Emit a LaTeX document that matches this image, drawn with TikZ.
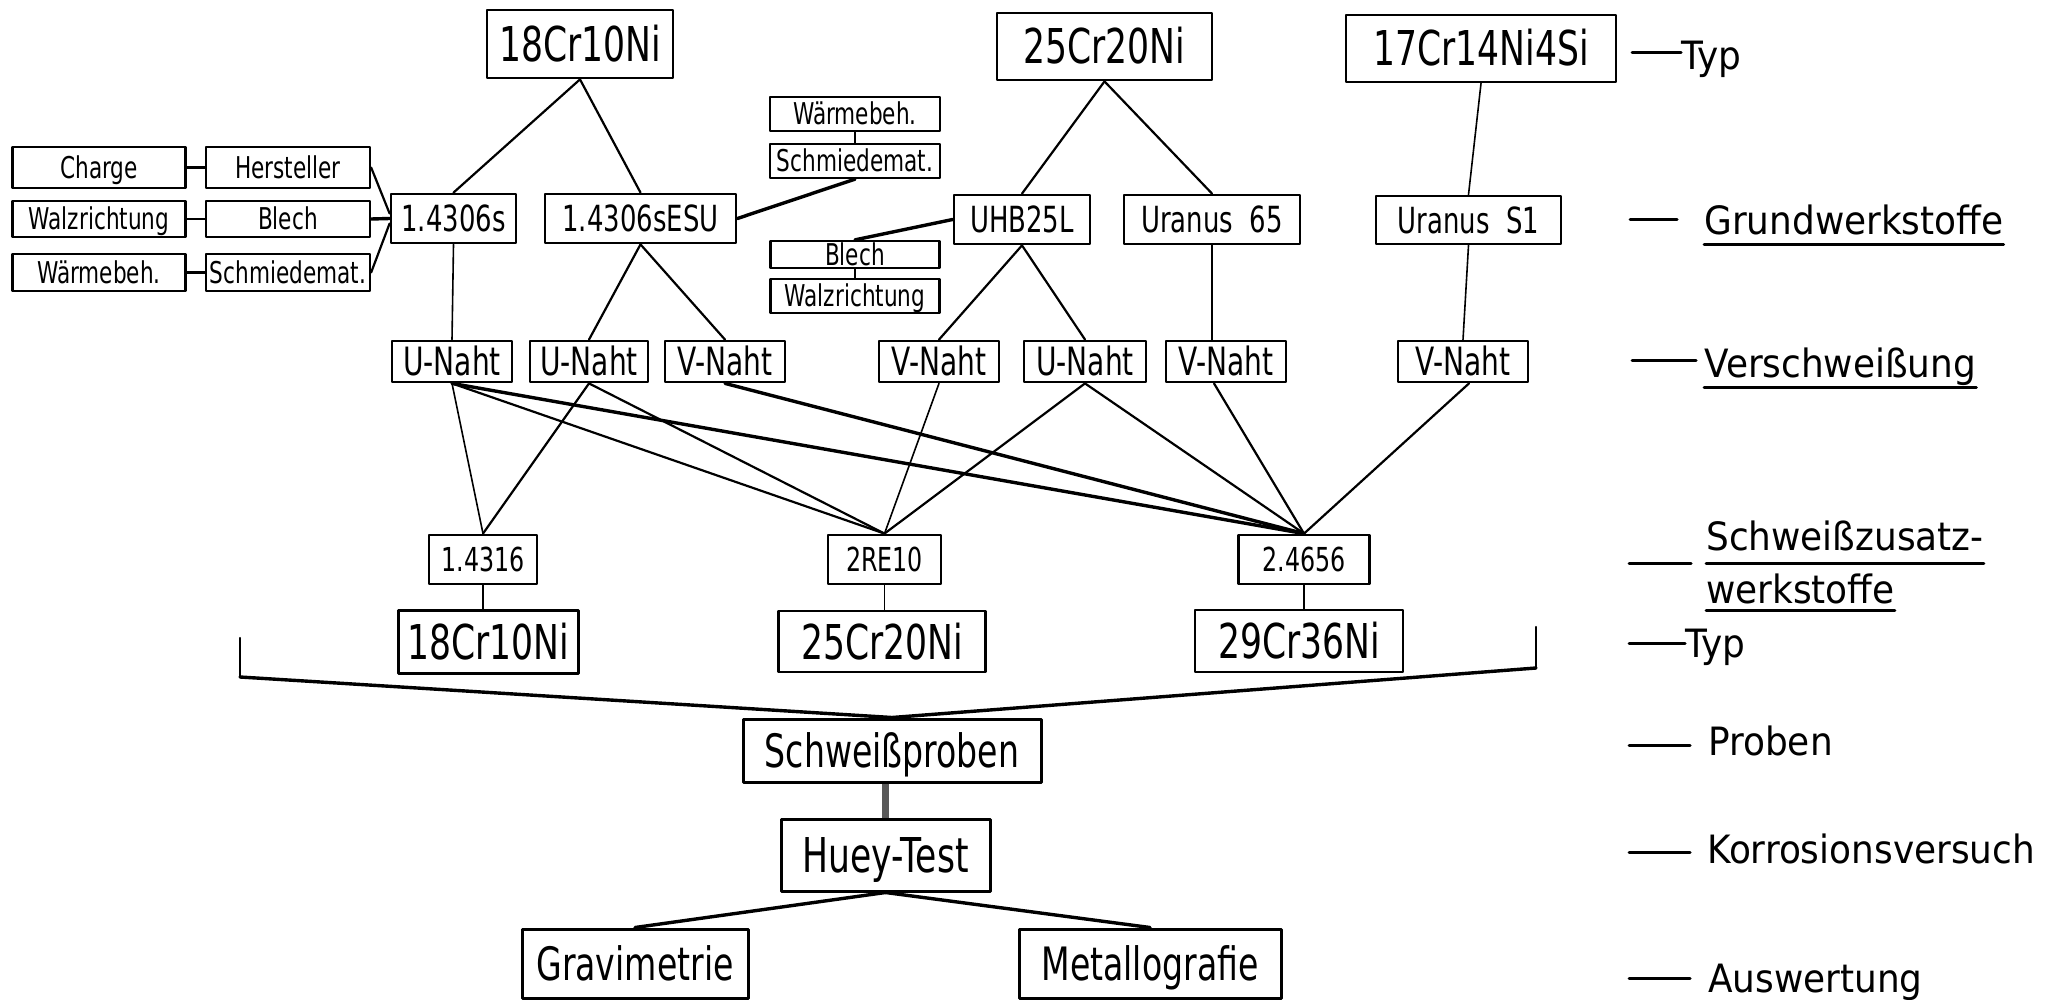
\documentclass[tikz,border=0pt]{standalone}
\usepackage{fontspec}
\newfontfamily\dinA{DejaVu Sans}[FakeStretch=0.72]
\newfontfamily\dinB{DejaVu Sans}[FakeStretch=0.92]
\begin{document}
\begin{tikzpicture}[x=1pt,y=-1pt,
  box/.style={draw, line width=2.8pt, inner sep=0pt, align=center, text depth=0pt},
  big/.style={box, text height=35pt, font=\dinA\fontsize{48}{54}\selectfont},
  mid/.style={box, text height=26.2pt, font=\dinA\fontsize{36}{42}\selectfont},
  sml/.style={box, line width=2.3pt, text height=21.9pt, font=\dinA\fontsize{30}{34}\selectfont},
  weld/.style={box, text height=28.4pt, font=\dinA\fontsize{39}{44}\selectfont},
  zus/.style={box, text height=24pt, font=\dinA\fontsize{33}{38}\selectfont},
  bot/.style={box, line width=3pt, text height=33.5pt, font=\dinA\fontsize{46}{52}\selectfont},
  lbl/.style={anchor=base west, inner sep=0pt, font=\dinB\fontsize{39}{44}\selectfont},
  ln/.style={line width=2.2pt},
  thin/.style={line width=1.6pt},
  heavy/.style={line width=3.4pt},
  ul/.style={line width=3pt},
  line cap=round, line join=round]
\useasboundingbox (0,0) rectangle (2063,1000);

% --- Typ (top)
\node[big, minimum width=186pt, minimum height=68pt] (t18) at (580,44) {18Cr10Ni};
\node[big, minimum width=215pt, minimum height=67pt] (t25) at (1104.5,46.5) {25Cr20Ni};
\node[big, minimum width=270pt, minimum height=67pt] (t17) at (1481,48.5) {17Cr14Ni4Si};

% --- left attribute boxes
\node[sml, minimum width=173pt, minimum height=41pt] (Ch) at (99,167.5) {Charge};
\node[sml, minimum width=164pt, minimum height=41pt] (He) at (288,167.5) {Hersteller};
\node[sml, minimum width=173pt, minimum height=36pt] (Wz) at (99,219) {Walzrichtung};
\node[sml, minimum width=164pt, minimum height=36pt] (Bl) at (288,219) {Blech};
\node[sml, minimum width=173pt, minimum height=37pt] (Wb) at (99,272.5) {Wärmebeh.};
\node[sml, minimum width=164pt, minimum height=37pt] (Sm) at (288,272.5) {Schmiedemat.};

% --- middle attribute boxes
\node[sml, minimum width=170pt, minimum height=34pt] (w2) at (855,114) {Wärmebeh.};
\node[sml, minimum width=170pt, minimum height=34pt] (s2) at (855,161) {Schmiedemat.};
\node[sml, minimum width=169pt, minimum height=27pt] (b2) at (855,254.5) {Blech};
\node[sml, minimum width=169pt, minimum height=34pt] (wz2) at (855,296) {Walzrichtung};

% --- Grundwerkstoffe
\node[mid, minimum width=125pt, minimum height=49pt] (s14306) at (453.5,218.5) {1.4306s};
\node[mid, minimum width=191pt, minimum height=49pt] (sESU) at (640.5,218.5) {1.4306sESU};
\node[mid, minimum width=136pt, minimum height=49pt] (uhb) at (1022,219.5) {UHB25L};
\node[mid, minimum width=176pt, minimum height=49pt] (u65) at (1212,219.5) {Uranus\ \ 65};
\node[mid, minimum width=185pt, minimum height=48pt] (us1) at (1468.5,220) {Uranus\ \ S1};

% --- Verschweissung
\node[weld, minimum width=120pt, minimum height=41pt] (un1) at (452,361.5) {U-Naht};
\node[weld, minimum width=118pt, minimum height=41pt] (un2) at (589,361.5) {U-Naht};
\node[weld, minimum width=120pt, minimum height=41pt] (vn1) at (725,361.5) {V-Naht};
\node[weld, minimum width=120pt, minimum height=41pt] (vn2) at (939,361.5) {V-Naht};
\node[weld, minimum width=122pt, minimum height=41pt] (un3) at (1085,361.5) {U-Naht};
\node[weld, minimum width=120pt, minimum height=41pt] (vn3) at (1226,361.5) {V-Naht};
\node[weld, minimum width=130pt, minimum height=41pt] (vn4) at (1463,361.5) {V-Naht};

% --- Schweisszusatzwerkstoffe
\node[zus, minimum width=108pt, minimum height=49pt] (z1) at (483,559.5) {1.4316};
\node[zus, minimum width=113pt, minimum height=49pt] (z2) at (884.5,559.5) {2RE10};
\node[zus, minimum width=131pt, minimum height=49pt] (z3) at (1304,559.5) {2.4656};

% --- Typ (lower)
\node[big, minimum width=180pt, minimum height=63pt] (l18) at (488.5,642) {18Cr10Ni};
\node[big, minimum width=207pt, minimum height=61pt] (l25) at (882,641.5) {25Cr20Ni};
\node[big, minimum width=208pt, minimum height=62pt] (l29) at (1299,641) {29Cr36Ni};

% --- bottom
\node[bot, minimum width=298pt, minimum height=63pt] (Schw) at (892,750.5) {Schweißproben};
\node[bot, minimum width=209pt, minimum height=72pt, text height=35pt, font=\dinA\fontsize{48}{54}\selectfont] (Huey) at (885.5,855) {Huey-Test};
\node[bot, minimum width=226pt, minimum height=69pt] (Grav) at (635,963.5) {Gravimetrie};
\node[bot, minimum width=262pt, minimum height=69pt] (Met) at (1150,963.5) {Metallografie};

% --- connectors top
\draw[ln] (t18.south) -- (s14306.north);
\draw[ln] (t18.south) -- (sESU.north);
\draw[ln] (Ch.east) -- (He.west);
\draw[ln] (Wz.east) -- (Bl.west);
\draw[ln] (Wb.east) -- (Sm.west);
\draw[ln] (He.east) -- ([yshift=5pt]s14306.west);
\draw[heavy] (Bl.east) -- (s14306.west);
\draw[ln] (Sm.east) -- ([yshift=-5pt]s14306.west);
\draw[thin] (s14306.south) -- (un1.north);
\draw[ln] (sESU.south) -- (un2.north);
\draw[ln] (sESU.south) -- (vn1.north);
\draw[heavy] (sESU.east) -- (s2.south);
\draw[thin] (w2.south) -- (s2.north);
\draw[ln] (t25.south) -- (uhb.north);
\draw[ln] (t25.south) -- (u65.north);
\draw[heavy] (uhb.west) -- (b2.north);
\draw[thin] (b2.south) -- (wz2.north);
\draw[ln] (uhb.south) -- (vn2.north);
\draw[ln] (uhb.south) -- (un3.north);
\draw[thin] (u65.south) -- (u65.south |- vn3.north);
\draw[thin] (t17.south) -- (us1.north);
\draw[thin] (us1.south) -- (vn4.north);

% --- connectors weld -> filler
\draw[thin] (un1.south) -- (z1.north);
\draw[ln] (un1.south) -- (z2.north);
\draw[heavy] (un1.south) -- (z3.north);
\draw[ln] (un2.south) -- (z1.north);
\draw[ln] (un2.south) -- (z2.north);
\draw[heavy] (vn1.south) -- (z3.north);
\draw[thin] (vn2.south) -- (z2.north);
\draw[ln] (un3.south) -- (z2.north);
\draw[ln] (un3.south) -- (z3.north);
\draw[ln] ([xshift=-12pt]vn3.south) -- (z3.north);
\draw[ln] ([xshift=6pt]vn4.south) -- (z3.north);

\draw[thin] (z1.south) -- (z1.south |- l18.north);
\draw[thin] (z2.south) -- (z2.south |- l25.north);
\draw[thin] (z3.south) -- (z3.south |- l29.north);

% --- bracket
\coordinate (bL1) at (240,638);
\coordinate (bL2) at (240,677);
\coordinate (bR1) at (1536,627);
\coordinate (bR2) at (1536,668);
\draw[ln] (bL1) -- (bL2);
\draw[ln] (bR1) -- (bR2);
\draw[heavy] (bL2) -- (Schw.north) -- (bR2);

% --- bottom connectors
\draw[line width=7pt, line cap=butt, black!65] (Huey.north |- Schw.south) -- (Huey.north);
\draw[heavy] (Huey.south) -- (Grav.north);
\draw[heavy] (Huey.south) -- (Met.north);

% --- right-hand labels
\node[lbl] (Ltyp1) at (1681,70) {Typ};
\node[lbl] (Lgw) at (1704,235) {Grundwerkstoffe};
\node[lbl] (Lvs) at (1704,377) {Verschweißung};
\node[lbl] (Lsz1) at (1706,550) {Schweißzusatz-};
\node[lbl] (Lsz2) at (1706,603) {werkstoffe};
\node[lbl] (Ltyp2) at (1685,657) {Typ};
\node[lbl] (Lpr) at (1708,755) {Proben};
\node[lbl] (Lko) at (1707,863) {Korrosionsversuch};
\node[lbl] (Lau) at (1708,992) {Auswertung};

\draw[ul] ([yshift=-10pt]Lgw.base west) -- ([yshift=-10pt]Lgw.base east);
\draw[ul] ([yshift=-10pt]Lvs.base west) -- ([yshift=-10pt]Lvs.base east);
\draw[ul] ([yshift=-13pt]Lsz1.base west) -- ([yshift=-13pt]Lsz1.base east);
\draw[ul] ([yshift=-7pt]Lsz2.base west) -- ([yshift=-7pt]Lsz2.base east);

\coordinate (d1) at (1632,53);
\coordinate (d2) at (1630,220);
\coordinate (d3) at (1632,360);
\coordinate (d4) at (1629,563);
\coordinate (d5) at (1629,643);
\coordinate (d6) at (1629,745);
\coordinate (d7) at (1629,852);
\coordinate (d8) at (1629,978);
\draw[ul] (d1) -- (d1 -| Ltyp1.west);
\draw[ul] (d2) -- ++(47,0);
\draw[ul] (d3) -- ++(64,0);
\draw[ul] (d4) -- ++(62,0);
\draw[ul] (d5) -- (d5 -| Ltyp2.west);
\draw[ul] (d6) -- ++(61,0);
\draw[ul] (d7) -- ++(61,0);
\draw[ul] (d8) -- ++(61,0);
\end{tikzpicture}
\end{document}
